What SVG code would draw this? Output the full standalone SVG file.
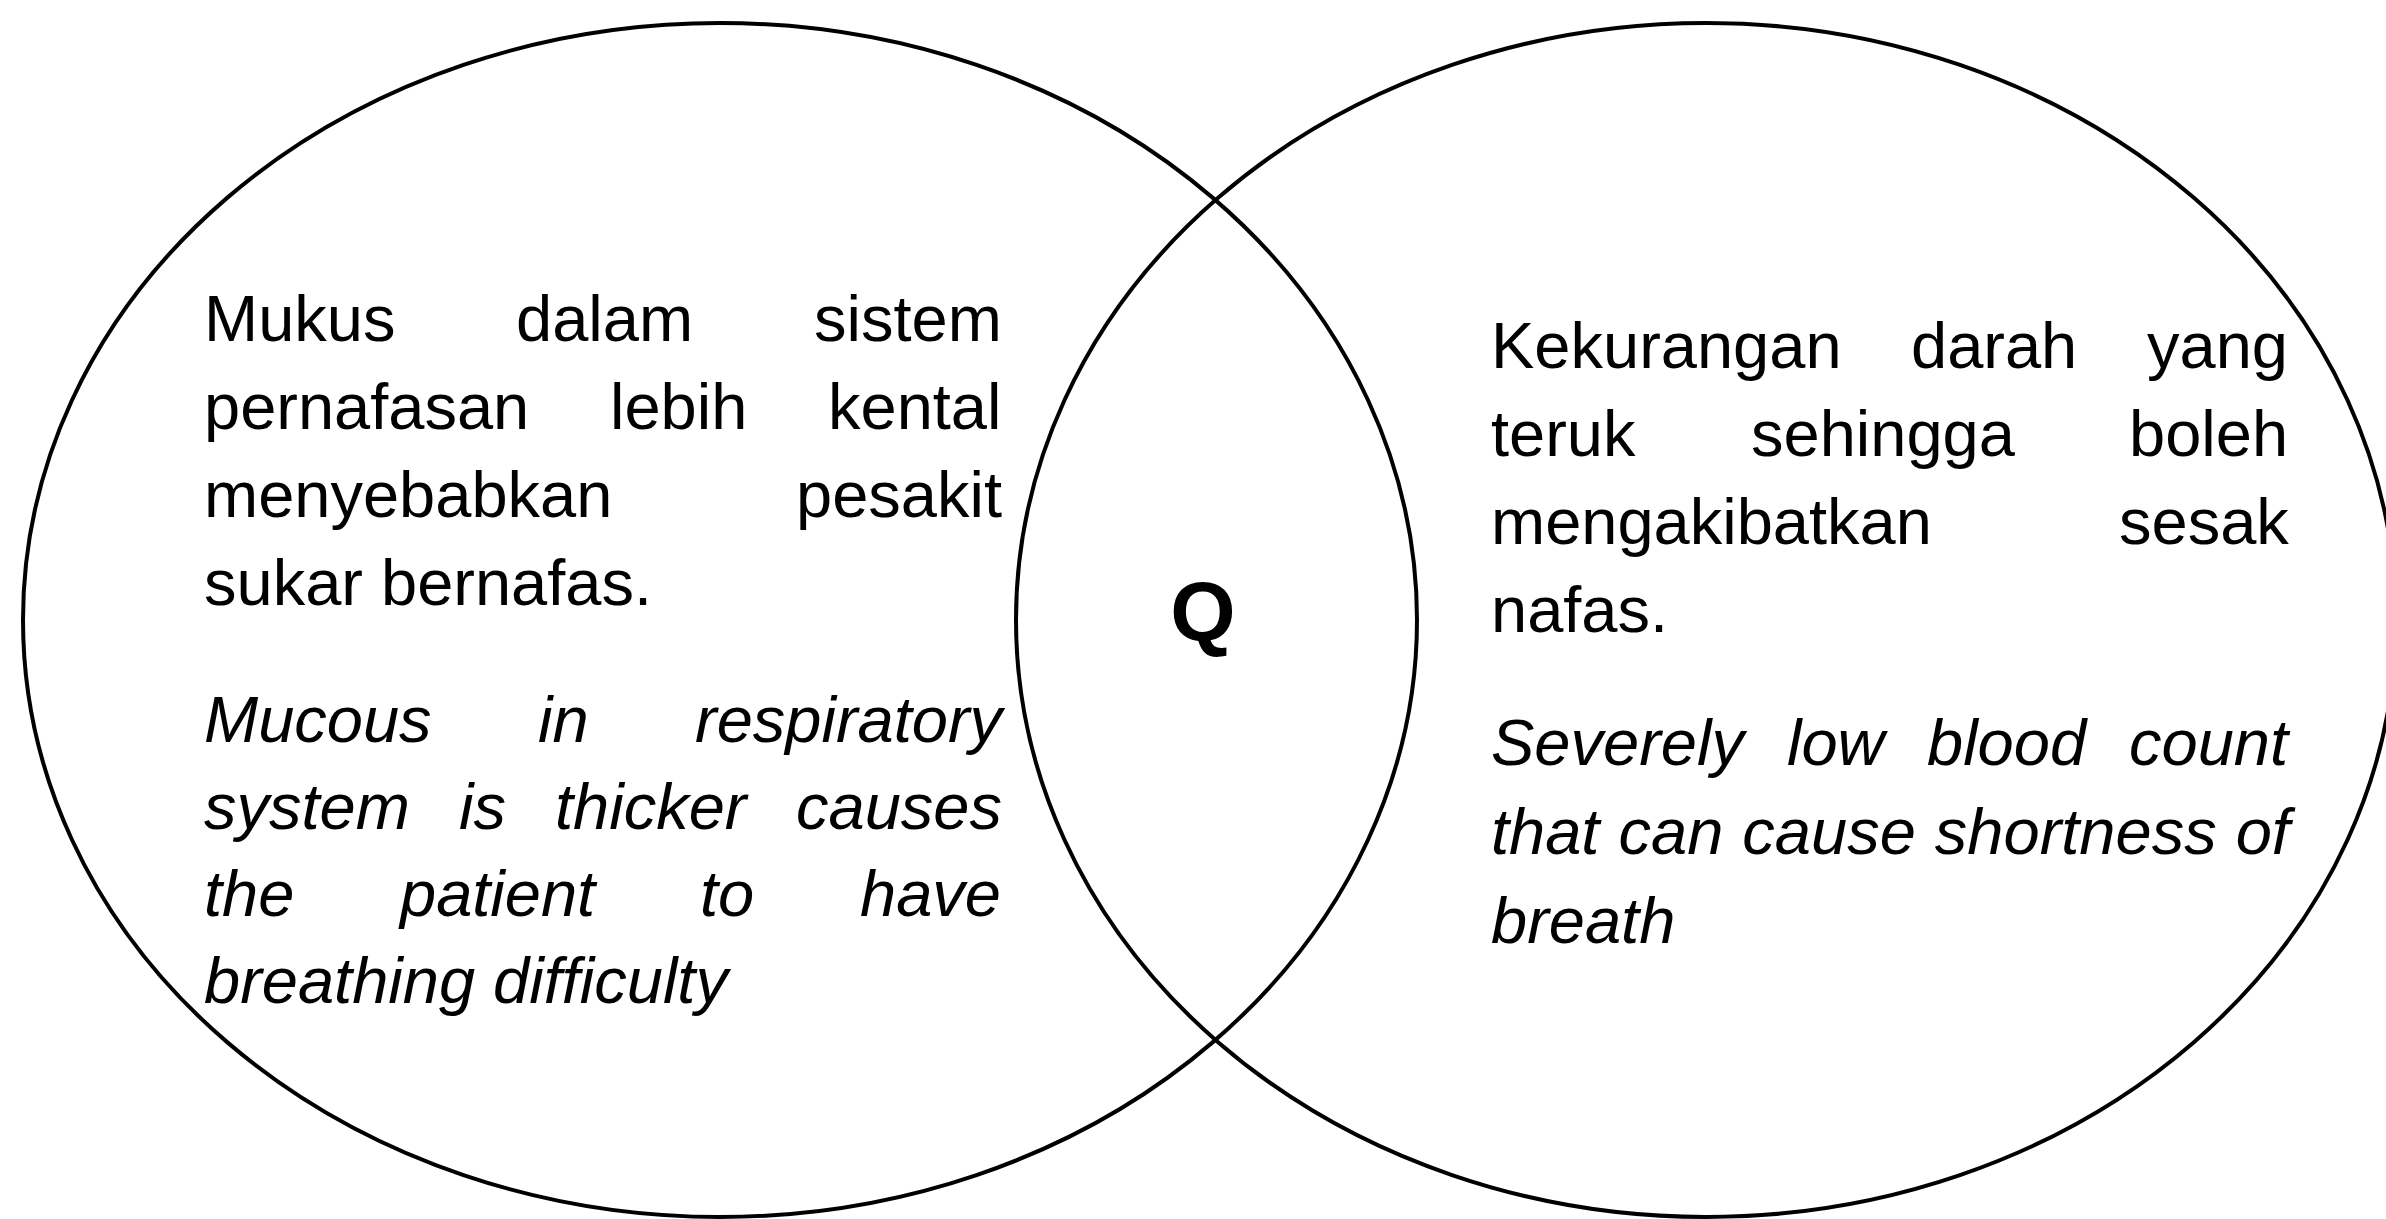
<svg xmlns="http://www.w3.org/2000/svg" width="2386" height="1219" viewBox="0 0 2386 1219">
  <style>
    .circle { fill: none; stroke: #000; stroke-width: 4; }
    .txt { font-family: "Liberation Sans", Arial, Helvetica, sans-serif; font-size: 65px; fill: #000; }
    .it { font-style: italic; }
    .q { font-family: "Liberation Sans", Arial, Helvetica, sans-serif; font-size: 84px; font-weight: bold; fill: #000; }
  </style>
  <rect x="0" y="0" width="2386" height="1219" fill="#fff"/>
  <g id="connectors"></g>
  <g id="left-set">
    <ellipse class="circle" cx="720" cy="620" rx="697" ry="597"/>
    <text class="txt" y="341"><tspan x="204">Mukus</tspan><tspan x="516">dalam</tspan><tspan x="814">sistem</tspan></text>
    <text class="txt" y="429"><tspan x="204">pernafasan</tspan><tspan x="610">lebih</tspan><tspan x="828">kental</tspan></text>
    <text class="txt" y="517"><tspan x="204">menyebabkan</tspan><tspan x="796">pesakit</tspan></text>
    <text class="txt" x="204" y="605">sukar bernafas.</text>
    <text class="txt it" y="742"><tspan x="204">Mucous</tspan><tspan x="538">in</tspan><tspan x="695">respiratory</tspan></text>
    <text class="txt it" y="829"><tspan x="204">system</tspan><tspan x="459">is</tspan><tspan x="555">thicker</tspan><tspan x="796">causes</tspan></text>
    <text class="txt it" y="916"><tspan x="204">the</tspan><tspan x="400">patient</tspan><tspan x="700">to</tspan><tspan x="860">have</tspan></text>
    <text class="txt it" x="204" y="1003">breathing difficulty</text>
  </g>
  <g id="right-set">
    <ellipse class="circle" cx="1706" cy="620" rx="690" ry="597"/>
    <text class="txt" y="368"><tspan x="1491">Kekurangan</tspan><tspan x="1911">darah</tspan><tspan x="2147">yang</tspan></text>
    <text class="txt" y="456"><tspan x="1491">teruk</tspan><tspan x="1751">sehingga</tspan><tspan x="2129">boleh</tspan></text>
    <text class="txt" y="544"><tspan x="1491">mengakibatkan</tspan><tspan x="2119">sesak</tspan></text>
    <text class="txt" x="1491" y="632">nafas.</text>
    <text class="txt it" y="765"><tspan x="1491">Severely</tspan><tspan x="1787">low</tspan><tspan x="1927">blood</tspan><tspan x="2129">count</tspan></text>
    <text class="txt it" x="1491" y="854" word-spacing="1">that can cause shortness of</text>
    <text class="txt it" x="1491" y="943">breath</text>
  </g>
  <g id="intersection">
    <text class="q" x="1203" y="641" text-anchor="middle">Q</text>
  </g>
</svg>
